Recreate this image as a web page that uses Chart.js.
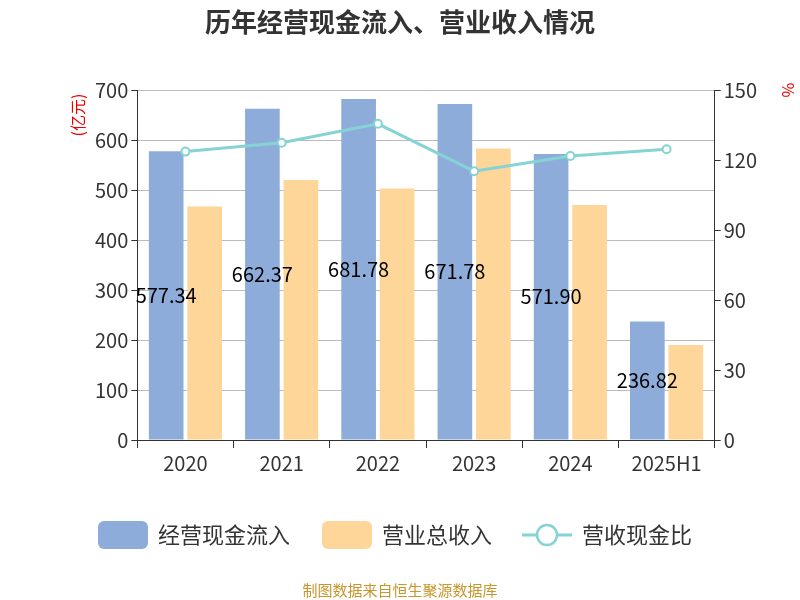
<!DOCTYPE html>
<html><head><meta charset="utf-8">
<script src="https://cdn.jsdelivr.net/npm/chart.js@4"></script>
<style>body{margin:0;background:#fff}#w{width:800px;height:600px;position:relative}</style>
</head><body><div id="w"><canvas id="c" width="800" height="600"></canvas></div>
<script>
const categories=["2020","2021","2022","2023","2024","2025H1"];
const cashIn=[577.34,662.37,681.78,671.78,571.90,236.82];
const revenue=[467,520,503,583,470,190];
const ratio=[123.6,127.4,135.5,115.2,121.7,124.6];
const F='"Noto Sans CJK SC","Noto Sans",sans-serif';
function rr(c,x,y,w,h,r){c.beginPath();c.moveTo(x+r,y);c.arcTo(x+w,y,x+w,y+h,r);c.arcTo(x+w,y+h,x,y+h,r);c.arcTo(x,y+h,x,y,r);c.arcTo(x,y,x+w,y,r);c.closePath();}
const extra={id:'extra',afterDraw(ch){const c=ch.ctx;c.save();
c.font='20px '+F;c.fillStyle='#000';c.textAlign='center';c.textBaseline='middle';
const m=ch.getDatasetMeta(0);m.data.forEach((b,i)=>{c.fillText(cashIn[i].toFixed(2),b.x,(b.y+b.base)/2);});
c.fillStyle='#e00';c.font='16px '+F;
c.save();c.translate(78,115);c.rotate(-Math.PI/2);c.fillText('(亿元)',0,0);c.restore();
c.save();c.translate(788,90);c.rotate(Math.PI/2);c.fillText('%',0,0);c.restore();
c.fillStyle='#333';c.font='bold 26px '+F;c.fillText('历年经营现金流入、营业收入情况',400,22);
c.fillStyle='#c8962a';c.font='15px '+F;c.fillText('制图数据来自恒生聚源数据库',400,590);
const ds=ch.data.datasets;const y=535;c.font='22px '+F;c.textAlign='left';
c.fillStyle=ds[0].backgroundColor;rr(c,98,521,50,28,6);c.fill();c.fillStyle='#333';c.fillText(ds[0].label,158,y);
c.fillStyle=ds[1].backgroundColor;rr(c,322,521,50,28,6);c.fill();c.fillStyle='#333';c.fillText(ds[1].label,382,y);
c.strokeStyle=ds[2].borderColor;c.lineWidth=3;c.beginPath();c.moveTo(522,y);c.lineTo(572,y);c.stroke();
c.fillStyle='#fff';c.lineWidth=2.5;c.beginPath();c.arc(547,y,10,0,Math.PI*2);c.fill();c.stroke();
c.fillStyle='#333';c.fillText(ds[2].label,582,y);
c.restore();}};
new Chart(document.getElementById('c'),{
data:{labels:categories,datasets:[
{type:'bar',label:'经营现金流入',data:cashIn,backgroundColor:'#8eacd9',yAxisID:'y',order:2,categoryPercentage:0.8,barPercentage:0.9},
{type:'bar',label:'营业总收入',data:revenue,backgroundColor:'#ffd699',yAxisID:'y',order:2,categoryPercentage:0.8,barPercentage:0.9},
{type:'line',label:'营收现金比',data:ratio,borderColor:'#86d3d6',backgroundColor:'#fff',borderWidth:3,pointRadius:4,pointBorderWidth:2,yAxisID:'y1',order:1}
]},
options:{responsive:false,animation:false,
layout:{padding:{top:90,left:92,right:40,bottom:122}},
plugins:{legend:{display:false},tooltip:{enabled:false}},
scales:{
x:{grid:{drawOnChartArea:false,offset:true,color:'#333',tickLength:8},border:{color:'#333'},ticks:{font:{size:20,family:F},color:'#333'}},
y:{min:0,max:700,ticks:{stepSize:100,font:{size:20,family:F},color:'#333'},grid:{color:'#bbb',tickColor:'#333',tickLength:6},border:{color:'#333'}},
y1:{position:'right',min:0,max:150,ticks:{stepSize:30,font:{size:20,family:F},color:'#333'},grid:{drawOnChartArea:false,tickColor:'#333',tickLength:6},border:{color:'#333'}}
}},plugins:[extra]});
</script></body></html>
